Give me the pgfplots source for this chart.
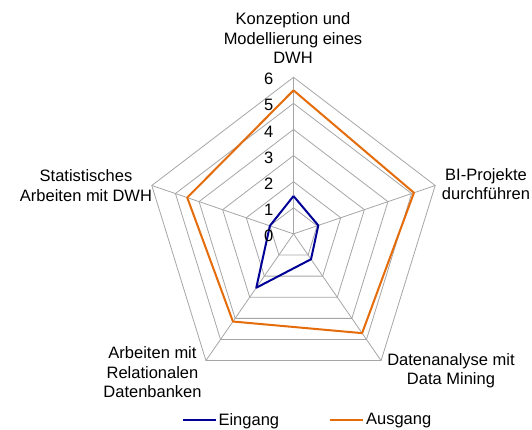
\documentclass[border=0pt]{standalone}
\usepackage{fontspec}
\setmainfont{Liberation Sans}
\usepackage{pgfplots}
\pgfplotsset{compat=1.18}
\definecolor{gridgray}{RGB}{166,166,166}
\definecolor{eing}{RGB}{0,0,150}
\definecolor{ausg}{RGB}{228,108,10}
\newcommand{\lf}{\fontsize{16.5}{19.5}\selectfont}
\begin{document}
\begin{tikzpicture}
\useasboundingbox (0,0) rectangle (532pt,430pt);
\begin{axis}[
  at={(293.5pt,196.1pt)}, anchor=origin,
  x=24.83pt, y=26.1pt,
  xmin=-8,xmax=8,ymin=-8,ymax=8,
  hide axis, clip=false,
  legend style={at={(0.535,0.0544)}, anchor=center, draw=none, fill=none,
    legend columns=2, font=\lf,
    /tikz/every even column/.append style={column sep=48pt}},
  legend image code/.code={\draw[#1] (0pt,0pt) -- (33pt,0pt);},
]
% grid rings
\addplot[gridgray, line width=0.8pt, forget plot, data cs=polar] coordinates {(90,1)(18,1)(-54,1)(-126,1)(162,1)(90,1)};
\addplot[gridgray, line width=0.8pt, forget plot, data cs=polar] coordinates {(90,2)(18,2)(-54,2)(-126,2)(162,2)(90,2)};
\addplot[gridgray, line width=0.8pt, forget plot, data cs=polar] coordinates {(90,3)(18,3)(-54,3)(-126,3)(162,3)(90,3)};
\addplot[gridgray, line width=0.8pt, forget plot, data cs=polar] coordinates {(90,4)(18,4)(-54,4)(-126,4)(162,4)(90,4)};
\addplot[gridgray, line width=0.8pt, forget plot, data cs=polar] coordinates {(90,5)(18,5)(-54,5)(-126,5)(162,5)(90,5)};
\addplot[gridgray, line width=0.8pt, forget plot, data cs=polar] coordinates {(90,6)(18,6)(-54,6)(-126,6)(162,6)(90,6)};
% spokes
\addplot[gridgray, line width=0.8pt, forget plot, data cs=polar] coordinates {(90,0)(90,6)};
\addplot[gridgray, line width=0.8pt, forget plot, data cs=polar] coordinates {(18,0)(18,6)};
\addplot[gridgray, line width=0.8pt, forget plot, data cs=polar] coordinates {(-54,0)(-54,6)};
\addplot[gridgray, line width=0.8pt, forget plot, data cs=polar] coordinates {(-126,0)(-126,6)};
\addplot[gridgray, line width=0.8pt, forget plot, data cs=polar] coordinates {(162,0)(162,6)};
% data
\addplot[eing, line width=2pt, line join=round, data cs=polar] coordinates {(90,1.45)(18,1.05)(-54,1.2)(-126,2.55)(162,1.0)(90,1.45)};
\addlegendentry{Eingang}
\addplot[ausg, line width=2pt, line join=round, data cs=polar] coordinates {(90,5.5)(18,5.1)(-54,4.7)(-126,4.15)(162,4.5)(90,5.5)};
\addlegendentry{Ausgang}
% tick labels
\foreach \r in {0,...,6}{
  \edef\tmp{\noexpand\node[anchor=east, inner sep=0pt, font=\noexpand\lf] at (axis cs:-0.81,\r) [yshift=-2pt] {\r};}
  \tmp
}
\end{axis}
\node[align=center, inner sep=0pt, font=\lf] at (293pt,391.5pt) {Konzeption und\\Modellierung eines\\DWH};
\node[align=center, inner sep=0pt, font=\lf] at (486pt,246pt) {BI-Projekte\\durchführen};
\node[align=center, inner sep=0pt, font=\lf] at (86pt,244.5pt) {Statistisches\\Arbeiten mit DWH};
\node[align=center, inner sep=0pt, font=\lf] at (152.5pt,57.5pt) {Arbeiten mit\\Relationalen\\Datenbanken};
\node[align=center, inner sep=0pt, font=\lf] at (451pt,59.5pt) {Datenanalyse mit\\Data Mining};
\end{tikzpicture}
\end{document}
